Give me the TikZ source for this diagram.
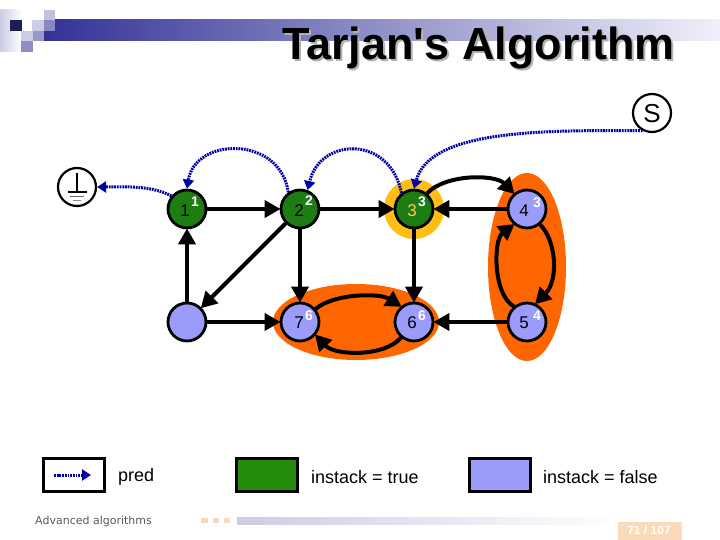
\documentclass[tikz,border=0pt]{standalone}
\usepackage{fontspec}
\setmainfont{Liberation Sans}
\newfontfamily\footfont{DejaVu Sans}
\newfontfamily\titlefont{Liberation Sans}
\usetikzlibrary{arrows.meta,calc}
\definecolor{grn}{RGB}{30,125,18}
\definecolor{lgrn}{RGB}{35,140,10}
\definecolor{blu}{RGB}{155,155,250}
\definecolor{org}{RGB}{255,102,0}
\definecolor{ylw}{RGB}{255,190,20}
\definecolor{prd}{RGB}{0,0,170}
\definecolor{band}{RGB}{50,50,150}
\definecolor{bandmid}{RGB}{190,190,222}
\definecolor{bandend}{RGB}{240,240,250}
\definecolor{peach}{RGB}{250,218,185}
\tikzset{
  x=1pt,y=-1pt,
  vert/.style={circle,draw=black,line width=2.8pt,minimum size=38pt,inner sep=0pt},
  term/.style={circle,draw=black,line width=2.2pt,fill=white,minimum size=38pt,inner sep=0pt},
  num/.style={font=\fontsize{17}{17}\selectfont,inner sep=0pt},
  sup/.style={font=\fontsize{14}{14}\selectfont\bfseries,text=white,inner sep=0pt},
  edge/.style={line width=4pt,-{Triangle[length=16pt,width=17pt]},shorten >=-1pt},
  pr/.style={line width=3pt,prd,dash pattern=on 1.8pt off 0.9pt,-{Triangle[length=9pt,width=11pt,color=prd]}},
  legend/.style={draw=black,line width=3pt,minimum width=61pt,minimum height=33pt,inner sep=0pt},
  legtext/.style={font=\fontsize{18}{18}\selectfont,anchor=west,inner sep=0pt},
  ttl/.style={font=\titlefont\fontsize{45}{45}\selectfont\bfseries,anchor=base west,inner sep=0pt}
}
\begin{document}
\begin{tikzpicture}
\useasboundingbox (0,0) rectangle (720,540);
\fill[white] (0,0) rectangle (720,540);
% header decoration
\shade[left color=band,middle color=bandmid,right color=bandend,draw=none] (44,20) rectangle (720,41);
\fill[white] (44,20) rectangle (55,31);
\shade[left color=white!75!band,right color=white,draw=none] (0,10) rectangle (22,52);
\fill[band!60!black] (10,20) rectangle (22,31);
\fill[white!75!band] (32,20) rectangle (43.5,31);
\fill[white!70!band] (43.5,10) rectangle (55,20);
\fill[white!42!band] (43.5,20) rectangle (55,31);
\fill[white!75!band] (21,31) rectangle (33,41);
\fill[white!50!band] (33,31) rectangle (44,41);
\fill[white!45!band] (21,41) rectangle (33,52);
% title
\node[ttl,text=black!30] (titleshadow) at (284,62) {Tarjan's Algorithm};
\node[ttl] (title) at (282,60) {Tarjan's Algorithm};
% highlights
\fill[org] (527,267) ellipse [x radius=39,y radius=94];
\fill[org] (356,322) ellipse [x radius=83,y radius=38];
\fill[ylw] (414,209) circle [radius=30];
% vertices
\node[vert,fill=grn] (n1) at (187,209) {};
\node[vert,fill=grn] (n2) at (300,209) {};
\node[vert,fill=grn] (n3) at (414,209) {};
\node[vert,fill=blu] (n4) at (527,209) {};
\node[vert,fill=blu] (n5) at (527,322) {};
\node[vert,fill=blu] (n6) at (414,322) {};
\node[vert,fill=blu] (n7) at (300,322) {};
\node[vert,fill=blu] (n8) at (187,322) {};
\node[term] (gnd) at (77,187) {};
\node[term] (s) at (652,113) {};
\node[font=\fontsize{26}{26}\selectfont,inner sep=0pt] (slab) at (652,114) {S};
% ground symbol
\coordinate (g0) at (77,173);
\coordinate (g1) at (77,192);
\draw[line width=1.2pt] (g0) -- (g1);
\draw[line width=1.2pt] (67.5,192) -- (86.5,192);
\draw[line width=1pt,black!60] (70,196.5) -- (84,196.5);
\draw[line width=1pt,black!45] (73,201) -- (81,201);
% black edges
\draw[edge] (n1) -- (n2);
\draw[edge] (n2) -- (n3);
\draw[edge] (n4) -- (n3);
\draw[edge] (n5) -- (n6);
\draw[edge] (n2) -- (n7);
\draw[edge] (n3) -- (n6);
\draw[edge] (n2) -- (n8);
\draw[edge] (n8) -- (n1);
\draw[edge] (n8) -- (n7);
\draw[edge] (n3.50) .. controls (445,174) and (495,174) .. (n4.130);
\draw[edge] (n4.-50) .. controls (556,240) and (559,280) .. (n5.65);
\draw[edge] (n5.130) .. controls (493,295) and (493,240) .. (n4.-130);
\draw[edge] (n7.40) .. controls (335,293) and (380,293) .. (n6.130);
\draw[edge] (n6.-130) .. controls (385,357) and (335,356) .. (n7.-40);
% numbers
\node[num] (t1) at (185,211) {1};  \node[sup] (u1) at (195,202) {1};
\node[num] (t2) at (299,211) {2};  \node[sup] (u2) at (309,201) {2};
\node[num,text=ylw!80!white] (t3) at (412,211) {3};  \node[sup] (u3) at (422,202) {3};
\node[num] (t4) at (524,211) {4};  \node[sup] (u4) at (537,203) {3};
\node[num] (t5) at (524,323) {5};  \node[sup] (u5) at (537,316) {4};
\node[num] (t6) at (412,323) {6};  \node[sup] (u6) at (422,316) {6};
\node[num] (t7) at (299,323) {7};  \node[sup] (u7) at (309,316) {6};
% pred edges
\draw[pr] (n2.125) .. controls (280,135) and (195,137) .. (n1.north);
\draw[pr] (n3.128) .. controls (390,135) and (320,137) .. (n2.68);
\draw[pr] (s.-118) .. controls (540,130) and (430,130) .. (n3.north);
\draw[pr] (n1.140) .. controls (150,185) and (125,187) .. (gnd.east);
% legend
\node[legend,fill=white] (leg1) at (73.5,474.5) {};
\node[legend,fill=lgrn] (leg2) at (266.5,474.5) {};
\node[legend,fill=blu] (leg3) at (499.5,474.5) {};
\coordinate (la) at (54,475);
\coordinate (lb) at (91,475);
\draw[pr] (la) -- (lb);
\node[legtext] (ltx1) at (118,477) {pred};
\node[legtext] (ltx2) at (311,477) {instack = true};
\node[legtext] (ltx3) at (543,477) {instack = false};
% footer
\node[font=\footfont\fontsize{11}{11}\selectfont,text=black!65,anchor=west,inner sep=0pt] (foot) at (35,521) {Advanced algorithms};
\fill[peach] (201,518) rectangle (208,523);
\fill[peach] (213,518) rectangle (219,523);
\fill[peach] (224,518) rectangle (230,523);
\shade[left color=band!25!white,right color=white,draw=none] (237,517) rectangle (620,524);
\fill[peach] (618,522) rectangle (682,540);
\node[font=\fontsize{12}{12}\selectfont\bfseries,text=white,inner sep=0pt] (page) at (649,530) {71 / 107};
\end{tikzpicture}
\end{document}
